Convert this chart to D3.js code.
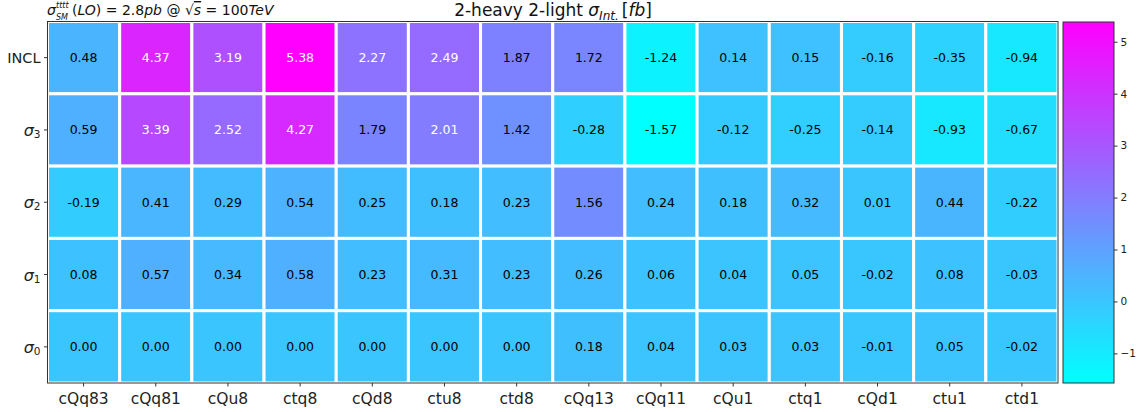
<!DOCTYPE html>
<html><head><meta charset="utf-8">
<script src="https://cdn.jsdelivr.net/npm/d3@7"></script>
<style>
body{margin:0;background:#fff;}
text{font-family:"DejaVu Sans",sans-serif;}
</style></head>
<body><svg id="c" width="1141" height="412"></svg>
<script>
const columns = ["cQq83","cQq81","cQu8","ctq8","cQd8","ctu8","ctd8","cQq13","cQq11","cQu1","ctq1","cQd1","ctu1","ctd1"];
const rows = ["INCL","σ3","σ2","σ1","σ0"];
const rowSub = ["","3","2","1","0"];
const valINCL = [0.48,4.37,3.19,5.38,2.27,2.49,1.87,1.72,-1.24,0.14,0.15,-0.16,-0.35,-0.94];
const valS3   = [0.59,3.39,2.52,4.27,1.79,2.01,1.42,-0.28,-1.57,-0.12,-0.25,-0.14,-0.93,-0.67];
const valS2   = [-0.19,0.41,0.29,0.54,0.25,0.18,0.23,1.56,0.24,0.18,0.32,0.01,0.44,-0.22];
const valS1   = [0.08,0.57,0.34,0.58,0.23,0.31,0.23,0.26,0.06,0.04,0.05,-0.02,0.08,-0.03];
const valS0   = [0.00,0.00,0.00,0.00,0.00,0.00,0.00,0.18,0.04,0.03,0.03,-0.01,0.05,-0.02];
const cbTicks = [-1,0,1,2,3,4,5];

const values = [valINCL,valS3,valS2,valS1,valS0];
const cells = [];
values.forEach((arr,r)=>arr.forEach((v,c)=>cells.push({r,c,v})));
const vmin = d3.min(cells,d=>d.v), vmax = d3.max(cells,d=>d.v);
const cool = t => `rgb(${Math.round(255*t)},${Math.round(255*(1-t))},255)`;
const color = d3.scaleSequential(cool).domain([vmin,vmax]);

const svg = d3.select("#c");
const L=47.5, R=1058, T=21.5, B=383;
const x = d3.scaleBand().domain(d3.range(columns.length)).range([L,R]);
const y = d3.scaleBand().domain(d3.range(rows.length)).range([T,B]);

// cells
svg.append("g").selectAll("rect").data(cells).join("rect")
  .attr("x",d=>x(d.c)).attr("y",d=>y(d.r))
  .attr("width",x.bandwidth()).attr("height",y.bandwidth())
  .attr("fill",d=>color(d.v)).attr("stroke","#fff").attr("stroke-width",3);
// frame
svg.append("rect").attr("x",L).attr("y",T).attr("width",R-L).attr("height",B-T)
  .attr("fill","none").attr("stroke","#333").attr("stroke-width",1);
// cell text
const mid = (vmin+vmax)/2;
svg.append("g").selectAll("text").data(cells).join("text")
  .attr("x",d=>x(d.c)+x.bandwidth()/2).attr("y",d=>y(d.r)+y.bandwidth()/2)
  .attr("text-anchor","middle").attr("dominant-baseline","central")
  .attr("font-size",12.5).attr("fill",d=>d.v>mid?"#fff":"#000")
  .text(d=>d.v.toFixed(2));

// x axis
const gx = svg.append("g").attr("transform",`translate(0,${B})`)
  .call(d3.axisBottom(x).tickSize(3.5).tickFormat(i=>columns[i]));
gx.select(".domain").remove();
gx.selectAll("line").attr("stroke","#333");
gx.selectAll("text").attr("font-size",15.5).attr("fill","#222").attr("dy","0.95em").attr("font-family","DejaVu Sans");
// y axis
const gy = svg.append("g").attr("transform",`translate(${L},0)`)
  .call(d3.axisLeft(y).tickSize(3.5).tickFormat(()=>""));
gy.select(".domain").remove();
gy.selectAll("line").attr("stroke","#333");
rows.forEach((r,i)=>{
  const t = svg.append("text").attr("x",L-7).attr("y",y(i)+y.bandwidth()/2)
    .attr("text-anchor","end").attr("dominant-baseline","central")
    .attr("font-size",14.5).attr("fill","#222");
  if(rowSub[i]===""){ t.text(r); }
  else {
    t.append("tspan").attr("font-style","italic").attr("font-size",16).text("σ");
    t.append("tspan").attr("font-size",10.5).attr("dy",4).text(rowSub[i]);
  }
});

// colorbar
const cbx=1063, cbw=51;
const cy = d3.scaleLinear().domain([vmin,vmax]).range([B,T+0.5]);
const defs = svg.append("defs");
const grad = defs.append("linearGradient").attr("id","cg").attr("x1",0).attr("y1",1).attr("x2",0).attr("y2",0);
d3.range(0,1.0001,0.1).forEach(t=>grad.append("stop").attr("offset",t).attr("stop-color",cool(t)));
svg.append("rect").attr("x",cbx).attr("y",cy(vmax)).attr("width",cbw).attr("height",cy(vmin)-cy(vmax))
  .attr("fill","url(#cg)").attr("stroke","#333").attr("stroke-width",1);
const gc = svg.append("g").attr("transform",`translate(${cbx+cbw},0)`)
  .call(d3.axisRight(cy).tickValues(cbTicks).tickSize(3.5).tickFormat(d=>d<0?"\u2212"+Math.abs(d):d));
gc.select(".domain").remove();
gc.selectAll("line").attr("stroke","#333");
gc.selectAll("text").attr("font-size",10.5).attr("fill","#222").attr("font-family","DejaVu Sans");

// title
const title = svg.append("text").attr("x",553).attr("y",16).attr("text-anchor","middle")
  .attr("font-size",17).attr("fill","#111");
title.append("tspan").text("2-heavy 2-light ");
title.append("tspan").attr("font-style","italic").text("σ");
title.append("tspan").attr("font-style","italic").attr("font-size",12).attr("dy",4).text("Int.");
title.append("tspan").attr("dy",-4).attr("dx",3).text("[");
title.append("tspan").attr("font-style","italic").text("fb");
title.append("tspan").text("]");

// left subtitle
const fs = 14;
svg.append("text").attr("x",47).attr("y",15).attr("font-size",fs).attr("font-style","italic").attr("fill","#111").text("σ");
svg.append("text").attr("x",56).attr("y",8).attr("font-size",8).attr("font-style","italic").attr("fill","#111").text("tttt");
svg.append("text").attr("x",56).attr("y",19.5).attr("font-size",8).attr("font-style","italic").attr("fill","#111").text("SM");
const st = svg.append("text").attr("x",72).attr("y",15).attr("font-size",fs).attr("fill","#111");
st.append("tspan").text("(");
st.append("tspan").attr("font-style","italic").text("LO");
st.append("tspan").text(") = 2.8");
st.append("tspan").attr("font-style","italic").text("pb");
st.append("tspan").text(" @ √");
st.append("tspan").attr("font-style","italic").attr("text-decoration","overline").text("s");
st.append("tspan").text(" = 100");
st.append("tspan").attr("font-style","italic").text("TeV");
</script></body></html>
